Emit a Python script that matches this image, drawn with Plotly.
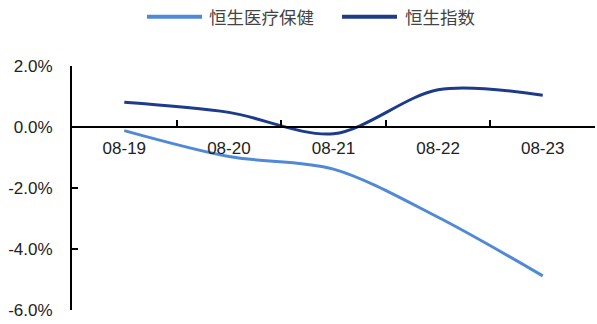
import plotly.graph_objects as go

categories = ["08-19", "08-20", "08-21", "08-22", "08-23"]
healthcare = [-0.12, -0.97, -1.38, -2.96, -4.88]   # 恒生医疗保健 (%)
hsi = [0.81, 0.48, -0.22, 1.22, 1.04]               # 恒生指数 (%)
series_names = ["恒生医疗保健", "恒生指数"]
y_ticks = [2, 0, -2, -4, -6]
y_labels = ["2.0%", "0.0%", "-2.0%", "-4.0%", "-6.0%"]

LIGHT = "#5089D6"
DARK = "#1E3A8A"

fig = go.Figure()
fig.add_trace(go.Scatter(
    x=categories, y=healthcare, name=series_names[0], mode="lines",
    line=dict(color=LIGHT, width=3, shape="spline", smoothing=0.9),
))
fig.add_trace(go.Scatter(
    x=categories, y=hsi, name=series_names[1], mode="lines",
    line=dict(color=DARK, width=3, shape="spline", smoothing=0.9),
))

# manual legend (in paper coordinates, above plot area)
leg_y = 1.202
leg_items = [
    (LIGHT, 0.1434, 0.2486, 0.2581, series_names[0]),
    (DARK, 0.5163, 0.6214, 0.6329, series_names[1]),
]
for color, x0, x1, xt, name in leg_items:
    fig.add_shape(type="line", xref="paper", yref="paper",
                  x0=x0, x1=x1, y0=leg_y, y1=leg_y,
                  line=dict(color=color, width=4))
    fig.add_annotation(xref="paper", yref="paper", x=xt, y=leg_y,
                       text=name, showarrow=False, xanchor="left", yanchor="middle",
                       font=dict(family="Noto Sans CJK SC", size=17.5, color="#444"))

fig.update_layout(
    width=597, height=324,
    margin=dict(l=72, r=2, t=66, b=14, autoexpand=False),
    paper_bgcolor="white", plot_bgcolor="white",
    font=dict(family="Liberation Sans, Arial", size=17, color="#222"),
    showlegend=False,
    xaxis=dict(
        type="category", range=[-0.5, 4.5],
        anchor="free", position=0.75,
        showline=True, linecolor="black", linewidth=2,
        ticks="inside", ticklen=6, tickcolor="black", tickwidth=2,
        tickson="boundaries", showgrid=False, zeroline=False,
        ticklabelstandoff=6,
        tickfont=dict(family="Liberation Sans, Arial", size=17, color="#222"),
    ),
    yaxis=dict(
        range=[-6, 2], tickvals=y_ticks, ticktext=y_labels,
        showline=True, linecolor="black", linewidth=2,
        ticks="inside", ticklen=6, tickcolor="black", tickwidth=2,
        showgrid=False, zeroline=False,
        ticklabelstandoff=14,
        tickfont=dict(family="Liberation Sans, Arial", size=17, color="#222"),
    ),
)

fig.write_html("out.html")
